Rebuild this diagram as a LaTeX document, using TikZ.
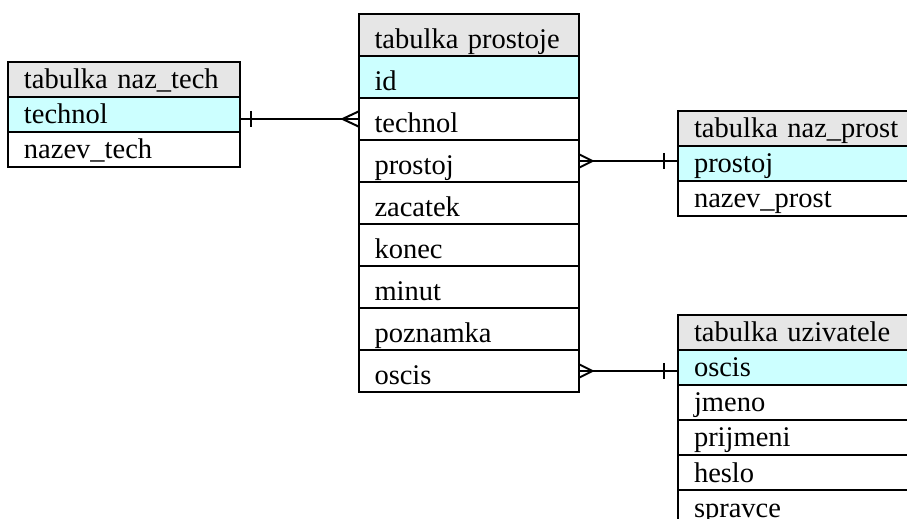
\documentclass[tikz,border=0pt]{standalone}
\usepackage{fontspec}
\setmainfont{Liberation Serif}
\usepackage{xcolor}
\usepackage{tikz}
\usetikzlibrary{positioning}

\definecolor{headgray}{HTML}{E6E6E6}
\definecolor{keycyan}{HTML}{CCFFFF}

\begin{document}
\begin{tikzpicture}[
cell/.style={draw, line width=1pt, outer sep=0pt, inner xsep=8pt, inner ysep=0pt, align=left, font=\fontsize{14.25pt}{16pt}\selectfont},
small/.style={cell, text width=100pt, minimum height=17.5pt, text height=13.5pt, text depth=4pt},
wide/.style={cell, text width=104pt, minimum height=17.5pt, text height=13.5pt, text depth=4pt},
tall/.style={cell, text width=94pt, minimum height=21pt, text height=17.5pt, text depth=3.5pt},
head/.style={fill=headgray, anchor=north west},
key/.style={fill=keycyan},
link/.style={line width=1pt},
node distance=0pt
]
\clip (0,0) rectangle (453.5pt,-259.5pt);

% tabulka naz_tech
\node[small, head] (tech) at (4pt,-31pt) {tabulka naz\_tech};
\node[small, key, below=of tech] (tech-technol) {technol};
\node[small, below=of tech-technol] (tech-nazev) {nazev\_tech};

% tabulka prostoje
\node[tall, head] (pros) at (179.25pt,-7pt) {tabulka prostoje};
\node[tall, key, below=of pros] (pros-id) {id};
\node[tall, below=of pros-id] (pros-technol) {technol};
\node[tall, below=of pros-technol] (pros-prostoj) {prostoj};
\node[tall, below=of pros-prostoj] (pros-zacatek) {zacatek};
\node[tall, below=of pros-zacatek] (pros-konec) {konec};
\node[tall, below=of pros-konec] (pros-minut) {minut};
\node[tall, below=of pros-minut] (pros-poznamka) {poznamka};
\node[tall, below=of pros-poznamka] (pros-oscis) {oscis};

% tabulka naz_prost
\node[wide, head] (nprost) at (339pt,-55.5pt) {tabulka naz\_prost};
\node[wide, key, below=of nprost] (nprost-prostoj) {prostoj};
\node[wide, below=of nprost-prostoj] (nprost-nazev) {nazev\_prost};

% tabulka uzivatele
\node[wide, head] (uziv) at (339pt,-157.5pt) {tabulka uzivatele};
\node[wide, key, below=of uziv] (uziv-oscis) {oscis};
\node[wide, below=of uziv-oscis] (uziv-jmeno) {jmeno};
\node[wide, below=of uziv-jmeno] (uziv-prijmeni) {prijmeni};
\node[wide, below=of uziv-prijmeni] (uziv-heslo) {heslo};
\node[wide, below=of uziv-heslo] (uziv-spravce) {spravce};

% vazby
\coordinate (a1) at (tech-technol.east |- pros-technol.west);
\coordinate (b1) at (pros-technol.west);
\draw[link] (a1) -- (b1);
\draw[link] ([xshift=5.5pt, yshift=4pt]a1) -- ([xshift=5.5pt, yshift=-4pt]a1);
\draw[link] ([xshift=-8pt]b1) -- ([yshift=3.75pt]b1) ([xshift=-8pt]b1) -- ([yshift=-3.75pt]b1);

\coordinate (a2) at (pros-prostoj.east);
\coordinate (b2) at (nprost-prostoj.west |- pros-prostoj.east);
\draw[link] (a2) -- (b2);
\draw[link] ([xshift=-7pt, yshift=4pt]b2) -- ([xshift=-7pt, yshift=-4pt]b2);
\draw[link] ([xshift=7pt]a2) -- ([yshift=3.5pt]a2) ([xshift=7pt]a2) -- ([yshift=-3.5pt]a2);

\coordinate (a3) at (pros-oscis.east);
\coordinate (b3) at (uziv-oscis.west |- pros-oscis.east);
\draw[link] (a3) -- (b3);
\draw[link] ([xshift=-7pt, yshift=4pt]b3) -- ([xshift=-7pt, yshift=-4pt]b3);
\draw[link] ([xshift=7pt]a3) -- ([yshift=3.5pt]a3) ([xshift=7pt]a3) -- ([yshift=-3.5pt]a3);
\end{tikzpicture}
\end{document}
